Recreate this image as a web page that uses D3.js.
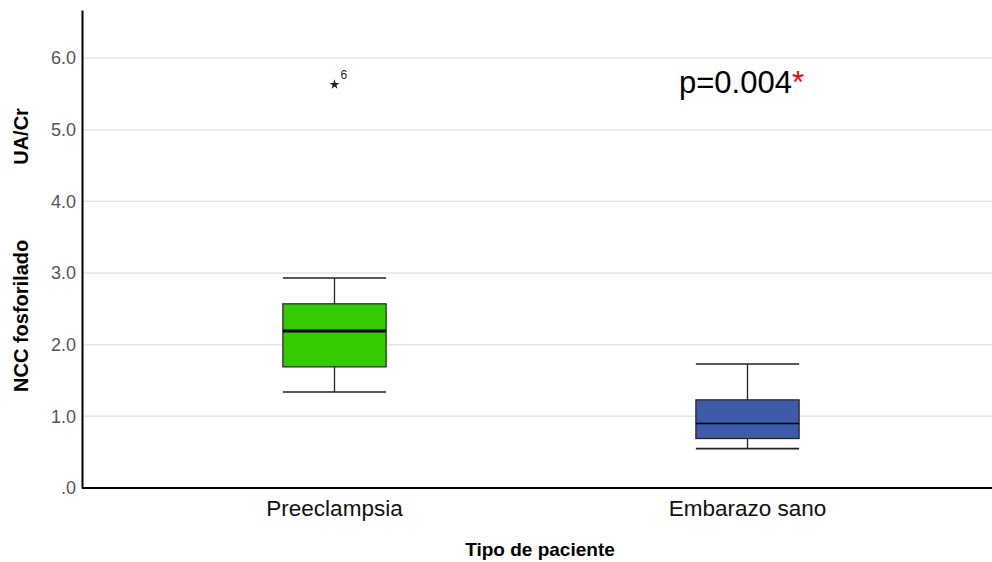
<!DOCTYPE html>
<html>
<head>
<meta charset="utf-8">
<script src="https://cdn.jsdelivr.net/npm/d3@7"></script>
<style>
  body { margin: 0; background: #fff; }
  text { font-family: Arial, "Liberation Sans", sans-serif; }
</style>
</head>
<body>
<svg id="chart" width="992" height="562"></svg>
<script>
// data
const categories = ["Preeclampsia", "Embarazo sano"];
const whiskerLow = [1.34, 0.55];
const q1 = [1.69, 0.69];
const medians = [2.19, 0.90];
const q3 = [2.57, 1.23];
const whiskerHigh = [2.93, 1.73];
const boxColors = ["#33cc00", "#3e5ba9"];
const medianWidths = [3, 1.5];
const outliers = [{cat: "Preeclampsia", value: 5.63, label: "6"}];
const yTicks = [0, 1, 2, 3, 4, 5, 6];

const width = 992, height = 562;
const margin = {top: 10, right: 0, bottom: 74, left: 82};

const svg = d3.select("#chart");

const x = d3.scaleBand()
    .domain(categories)
    .range([128, 954]);

const y = d3.scaleLinear()
    .domain([0, 6.67])
    .range([height - margin.bottom, margin.top]);

// gridlines
svg.append("g")
    .selectAll("line")
    .data(yTicks.filter(d => d > 0))
    .enter().append("line")
    .attr("x1", margin.left)
    .attr("x2", width)
    .attr("y1", d => y(d))
    .attr("y2", d => y(d))
    .attr("stroke", "#e6e6e6")
    .attr("stroke-width", 1.5);

// y axis
const yAxis = svg.append("g")
    .attr("transform", `translate(${margin.left},0)`)
    .call(d3.axisLeft(y).tickValues(yTicks).tickSize(0).tickPadding(6)
        .tickFormat(d => d === 0 ? ".0" : d3.format(".1f")(d)));
yAxis.select(".domain").attr("stroke", "#000").attr("stroke-width", 2);
yAxis.selectAll("text").attr("font-size", 18).attr("fill", "#555")
    .attr("font-family", "Arial, 'Liberation Sans', sans-serif");

// x axis
const xAxis = svg.append("g")
    .attr("transform", `translate(0,${height - margin.bottom})`)
    .call(d3.axisBottom(x).tickSize(0).tickPadding(12));
xAxis.select(".domain").attr("d", `M${margin.left},0H${width}`)
    .attr("stroke", "#000").attr("stroke-width", 2);
xAxis.selectAll("text").attr("font-size", 22.5).attr("fill", "#111")
    .attr("font-family", "Arial, 'Liberation Sans', sans-serif");

// boxes
const boxes = categories.map((c, i) => ({
    cat: c, lo: whiskerLow[i], q1: q1[i], med: medians[i], q3: q3[i], hi: whiskerHigh[i],
    color: boxColors[i], mw: medianWidths[i]
}));
const bw = x.bandwidth() * 0.25;
const cw = x.bandwidth() * 0.125;

const g = svg.append("g").selectAll("g")
    .data(boxes)
    .enter().append("g")
    .attr("transform", d => `translate(${x(d.cat) + x.bandwidth() / 2},0)`);

g.append("line")
    .attr("y1", d => y(d.lo)).attr("y2", d => y(d.hi))
    .attr("stroke", "#222").attr("stroke-width", 1.3);
g.append("line").attr("x1", -cw).attr("x2", cw)
    .attr("y1", d => y(d.hi)).attr("y2", d => y(d.hi))
    .attr("stroke", "#222").attr("stroke-width", 1.6);
g.append("line").attr("x1", -cw).attr("x2", cw)
    .attr("y1", d => y(d.lo)).attr("y2", d => y(d.lo))
    .attr("stroke", "#222").attr("stroke-width", 1.6);
g.append("rect")
    .attr("x", -bw / 2).attr("width", bw)
    .attr("y", d => y(d.q3)).attr("height", d => y(d.q1) - y(d.q3))
    .attr("fill", d => d.color).attr("stroke", "#222").attr("stroke-width", 1.2);
g.append("line").attr("x1", -bw / 2).attr("x2", bw / 2)
    .attr("y1", d => y(d.med)).attr("y2", d => y(d.med))
    .attr("stroke", "#000").attr("stroke-width", d => d.mw);

// extreme outlier
const o = svg.append("g").selectAll("g")
    .data(outliers)
    .enter().append("g")
    .attr("transform", d => `translate(${x(d.cat) + x.bandwidth() / 2},${y(d.value)})`);
o.append("path")
    .attr("d", d3.symbol(d3.symbolStar, 30))
    .attr("fill", "#222");
o.append("text")
    .attr("x", 6).attr("y", -6)
    .attr("font-size", 12).attr("fill", "#222")
    .text(d => d.label);

// p value
const p = svg.append("text")
    .attr("x", 679).attr("y", 93)
    .attr("font-size", 31).attr("fill", "#000");
p.append("tspan").text("p=0.004");
p.append("tspan").attr("fill", "#ff0000").text("*");

// axis titles
svg.append("text")
    .attr("x", 540).attr("y", 556)
    .attr("text-anchor", "middle")
    .attr("font-size", 19).attr("font-weight", "bold")
    .text("Tipo de paciente");

const yl = svg.append("text")
    .attr("transform", "translate(28,392) rotate(-90)")
    .attr("font-size", 20).attr("font-weight", "bold");
yl.append("tspan").text("NCC fosforilado");
yl.append("tspan").attr("dx", 75).text("UA/Cr");
</script>
</body>
</html>
